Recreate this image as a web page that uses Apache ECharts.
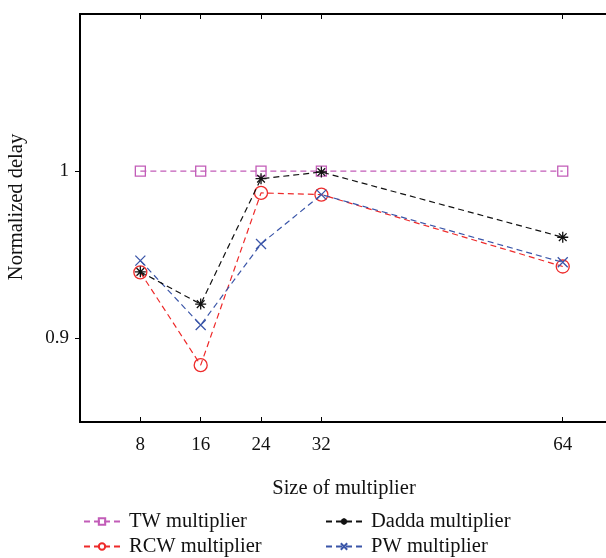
<!DOCTYPE html>
<html>
<head>
<meta charset="utf-8">
<script src="https://cdn.jsdelivr.net/npm/echarts@6/dist/echarts.min.js"></script>
<style>
html,body{margin:0;padding:0;background:#fff;}
#chart{width:606px;height:558px;}
</style>
</head>
<body>
<div id="chart"></div>
<script>
// Data
var sizes = [8, 16, 24, 32, 64];
var twValues = [1.0, 1.0, 1.0, 1.0, 1.0];
var rcwValues = [0.9395, 0.884, 0.987, 0.986, 0.943];
var daddaValues = [0.9398, 0.9205, 0.9955, 0.9995, 0.9605];
var pwValues = [0.9465, 0.908, 0.9565, 0.986, 0.9455];
var yTicks = [0.9, 1];
var seriesNames = ['TW multiplier', 'RCW multiplier', 'Dadda multiplier', 'PW multiplier'];

function pairs(vals) { return sizes.map(function (s, i) { return [s, vals[i]]; }); }

var FONT = '"Liberation Serif", "DejaVu Serif", serif';
var asterisk = 'path://M5,0L5,10M0,5L10,5M1.5,1.5L8.5,8.5M8.5,1.5L1.5,8.5';
var cross = 'path://M0,0L10,10M10,0L0,10';

function mkSeries(name, vals, color, symbol, size, z) {
  return {
    name: name, type: 'line', data: pairs(vals),
    symbol: symbol, symbolSize: size, showSymbol: true,
    lineStyle: { color: color, width: 1.2, type: [6, 4] },
    itemStyle: { color: 'rgba(255,255,255,0)', borderColor: color, borderWidth: 1.3 },
    z: z, animation: false
  };
}

function mkLegend(name, left, top) {
  return {
    data: [name], left: left, top: top,
    itemWidth: 36, itemHeight: 8, itemGap: 0,
    textStyle: { fontFamily: FONT, fontSize: 20.5, color: '#111', padding: [0, 0, 0, 4] }
  };
}

var chart = echarts.init(document.getElementById('chart'), null, { renderer: 'canvas' });
var axisLine = { show: true, lineStyle: { color: '#000', width: 2 } };
chart.setOption({
  backgroundColor: '#fff',
  animation: false,
  grid: { left: 80, top: 14, width: 528, height: 408, containLabel: false, outerBoundsMode: 'none' },
  xAxis: [{
    type: 'value', min: 0, max: 70, position: 'bottom',
    name: 'Size of multiplier', nameLocation: 'middle', nameGap: 56,
    nameTextStyle: { fontFamily: FONT, fontSize: 20.5, color: '#111' },
    axisLine: axisLine,
    axisTick: { show: true, inside: true, length: 5, customValues: sizes, lineStyle: { color: '#000', width: 1 } },
    axisLabel: { show: true, customValues: sizes, margin: 14, fontFamily: FONT, fontSize: 19, color: '#111' },
    splitLine: { show: false }
  }, {
    type: 'value', min: 0, max: 70, position: 'top',
    axisLine: axisLine,
    axisTick: { show: true, inside: true, length: 5, customValues: sizes, lineStyle: { color: '#000', width: 1 } },
    axisLabel: { show: false },
    splitLine: { show: false }
  }],
  yAxis: [{
    type: 'value', min: 0.85, max: 1.094, position: 'left',
    name: 'Normalized delay', nameLocation: 'middle', nameGap: 53, nameRotate: 90,
    nameTextStyle: { fontFamily: FONT, fontSize: 20.5, color: '#111', padding: [0, 0, 0, 22] },
    axisLine: axisLine,
    axisTick: { show: true, inside: false, length: 5, customValues: yTicks, lineStyle: { color: '#000', width: 1 } },
    axisLabel: { show: true, customValues: yTicks, margin: 11, fontFamily: FONT, fontSize: 19, color: '#111',
      formatter: function (v) { return String(v); } },
    splitLine: { show: false }
  }, {
    type: 'value', min: 0.85, max: 1.094, position: 'right',
    axisLine: axisLine,
    axisTick: { show: true, inside: true, length: 5, customValues: yTicks, lineStyle: { color: '#000', width: 1 } },
    axisLabel: { show: false },
    splitLine: { show: false }
  }],
  legend: [
    mkLegend(seriesNames[0], 78, 506),
    mkLegend(seriesNames[1], 78, 531),
    mkLegend(seriesNames[2], 320, 506),
    mkLegend(seriesNames[3], 320, 531)
  ],
  series: [
    mkSeries(seriesNames[0], twValues, '#c25cb8', 'rect', 10, 2),
    mkSeries(seriesNames[1], rcwValues, '#ee2a2a', 'circle', 13, 3),
    mkSeries(seriesNames[2], daddaValues, '#111111', asterisk, 11, 5),
    mkSeries(seriesNames[3], pwValues, '#3a55a8', cross, 10, 4)
  ]
});
</script>
</body>
</html>
